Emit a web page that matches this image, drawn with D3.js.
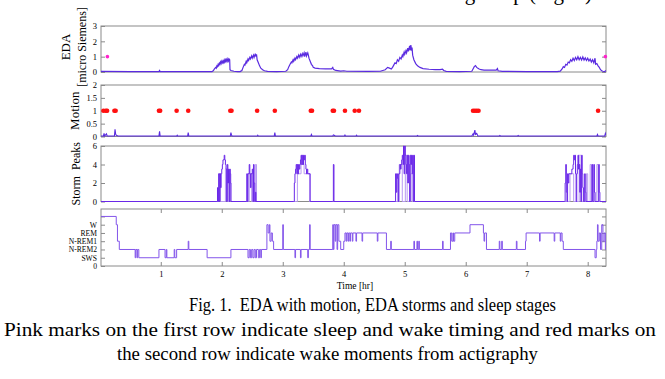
<!DOCTYPE html>
<html><head><meta charset="utf-8">
<script src="https://cdn.jsdelivr.net/npm/d3@7"></script>
<style>body{margin:0;background:#fff}svg{display:block}text{white-space:pre}</style>
</head><body><svg id="c" width="665" height="379"></svg>
<script>
// ---------- data ----------
const timeTicks = [1,2,3,4,5,6,7,8];
const edaTicks = [0,1,2,3];
const motionTicks = [0,0.5,1,1.5,2];
const stormTicks = [0,2,4,6];
const stageTicks = [0,1,2,3,4,5,6];
const stageLabels = ["0","SWS","N-REM2","N-REM1","REM","W",""];
const sleepMarks = [[0.125,1],[8.29,1]];
const eda = [[0.02,0.04],[0.5,0.03],[0.97,0.03],[0.98,0.1],[0.99,0.03],[1.5,0.03],[1.84,0.03],
[1.86,0.08],[1.88,0.2],[1.9,0.3],[1.91,0.25],[1.92,0.4],[1.93,0.35],[1.94,0.5],[1.95,0.42],[1.96,0.58],[1.97,0.5],[1.98,0.65],[1.99,0.55],[2.0,0.7],[2.01,0.6],[2.02,0.72],[2.03,0.62],[2.04,0.78],[2.05,0.65],[2.06,0.8],[2.07,0.68],[2.08,0.82],[2.09,0.7],[2.1,0.85],[2.11,0.72],[2.12,0.85],[2.13,0.8],[2.135,0.15],[2.15,0.1],[2.2,0.05],[2.26,0.02],[2.3,0.03],
[2.33,0.1],[2.35,0.3],[2.37,0.5],[2.38,0.45],[2.4,0.7],[2.41,0.6],[2.43,0.85],[2.44,0.75],[2.46,0.95],[2.47,0.85],[2.49,1.05],[2.5,0.9],[2.52,1.1],[2.53,0.95],[2.55,1.2],[2.56,1.0],[2.57,1.15],[2.58,0.8],[2.6,0.6],[2.62,0.4],[2.64,0.25],[2.67,0.15],[2.7,0.08],[2.75,0.04],[2.9,0.03],[3.05,0.05],
[3.08,0.15],[3.1,0.35],[3.12,0.5],[3.14,0.65],[3.15,0.6],[3.17,0.8],[3.18,0.7],[3.2,0.9],[3.21,0.8],[3.23,1.0],[3.24,0.9],[3.26,1.1],[3.27,0.95],[3.29,1.15],[3.3,1.0],[3.32,1.2],[3.33,1.05],[3.35,1.25],[3.36,1.0],[3.38,1.3],[3.39,1.05],[3.41,1.25],[3.42,1.1],[3.43,0.9],[3.45,0.7],[3.47,0.5],[3.49,0.4],[3.5,0.3],[3.53,0.25],[3.6,0.22],[3.7,0.2],[3.8,0.2],[3.82,0.3],[3.83,0.18],[3.87,0.1],[3.95,0.06],[4.0,0.08],[4.05,0.05],[4.4,0.04],[4.6,0.05],
[4.68,0.15],[4.72,0.3],[4.75,0.25],[4.78,0.2],[4.8,0.3],[4.82,0.45],[4.84,0.6],[4.86,0.55],[4.88,0.8],[4.9,0.7],[4.92,0.95],[4.94,0.85],[4.96,1.1],[4.97,1.0],[4.99,1.3],[5.0,1.15],[5.02,1.4],[5.03,1.25],[5.05,1.55],[5.06,1.35],[5.08,1.7],[5.09,1.4],[5.1,1.75],[5.11,1.5],[5.12,1.6],[5.13,1.1],[5.15,0.8],[5.18,0.55],[5.21,0.4],[5.25,0.3],[5.3,0.22],[5.4,0.18],[5.5,0.15],[5.58,0.15],[5.62,0.18],[5.64,0.1],[5.68,0.04],[5.9,0.03],[6.1,0.05],
[6.12,0.2],[6.14,0.35],[6.16,0.42],[6.18,0.3],[6.2,0.25],[6.22,0.2],[6.25,0.15],[6.3,0.12],[6.45,0.12],[6.5,0.12],[6.52,0.22],[6.53,0.08],[6.6,0.04],[7.0,0.03],[7.5,0.03],[7.55,0.06],
[7.58,0.2],[7.6,0.35],[7.62,0.3],[7.64,0.5],[7.66,0.45],[7.68,0.65],[7.7,0.6],[7.72,0.8],[7.74,0.7],[7.76,0.9],[7.78,0.75],[7.8,0.95],[7.82,0.8],[7.84,1.0],[7.86,0.8],[7.88,0.95],[7.9,0.78],[7.92,0.98],[7.94,0.78],[7.96,0.92],[7.98,0.75],[8.0,0.9],[8.02,0.72],[8.04,0.85],[8.06,0.65],[8.08,0.8],[8.1,0.6],[8.12,0.9],[8.13,0.5],[8.15,0.55],[8.17,0.4],[8.19,0.3],[8.21,0.15],[8.23,0.08],[8.25,0.05],[8.28,0.03],[8.3,0.1]];
const motion = [[0.02,0.02],[0.06,0.02],[0.07,0.12],[0.08,0.02],[0.11,0.1],[0.12,0.02],[0.24,0.02],[0.25,0.28],[0.26,0.1],[0.27,0.05],[0.3,0.02],[0.97,0.02],[0.98,0.2],[0.99,0.02],[1.26,0.02],[1.27,0.05],[1.28,0.02],[1.44,0.02],[1.45,0.15],[1.46,0.02],[2.14,0.02],[2.15,0.15],[2.16,0.05],[2.17,0.02],[2.58,0.02],[2.59,0.05],[2.6,0.02],[2.86,0.02],[2.87,0.15],[2.88,0.02],[3.46,0.02],[3.47,0.08],[3.48,0.02],[3.82,0.02],[3.83,0.06],[3.85,0.04],[3.86,0.02],[4.01,0.02],[4.02,0.06],[4.03,0.02],[4.2,0.02],[4.21,0.05],[4.22,0.02],[5.2,0.02],[5.21,0.04],[5.22,0.02],[6.1,0.02],[6.12,0.1],[6.13,0.05],[6.15,0.25],[6.16,0.08],[6.18,0.12],[6.2,0.02],[6.55,0.02],[6.56,0.04],[6.57,0.02],[6.85,0.02],[6.86,0.04],[6.87,0.02],[8.15,0.02],[8.16,0.08],[8.17,0.02],[8.28,0.02],[8.29,0.12],[8.3,0.05]];
const wakeMoments = [0.06,0.1,0.12,0.24,0.26,0.97,0.99,1.26,1.45,2.14,2.16,2.58,2.87,3.46,3.48,3.82,3.84,4.02,4.18,4.25,6.12,6.15,6.18,6.21,8.17];
const storm = [[0.02,0],[1.92,0],[1.93,1.5],[1.94,0],[1.95,3],[1.96,0],[1.97,3],[1.98,1.5],[1.99,3],[2.0,3.5],[2.01,4],[2.02,4.5],[2.04,5],[2.05,4.5],[2.06,4],[2.07,3.5],[2.08,0],[2.09,4],[2.1,2],[2.11,3.5],[2.12,0],[2.13,3.5],[2.14,2],[2.15,0],
[2.4,0],[2.41,3],[2.42,0],[2.43,3],[2.45,4],[2.46,3],[2.47,1.5],[2.48,3],[2.5,3.5],[2.51,0],[2.52,4],[2.53,2],[2.54,0],[2.55,1],[2.56,0],
[3.18,0],[3.19,2],[3.2,3],[3.21,3.5],[3.22,4],[3.23,3],[3.24,4],[3.25,3],[3.26,4],[3.27,3.5],[3.28,4],[3.29,4.5],[3.3,5],[3.31,4],[3.32,5],[3.33,4],[3.34,5],[3.35,4.5],[3.36,5],[3.37,4],[3.38,3.5],[3.39,3],[3.4,3.5],[3.41,3],[3.43,3],[3.45,0],
[3.82,0],[3.83,4],[3.84,0],
[4.84,0],[4.85,3],[4.86,1],[4.87,3],[4.88,2.5],[4.89,0],[4.9,3],[4.92,4],[4.93,3.5],[4.94,4],[4.95,4.5],[4.96,5],[4.97,4],[4.98,6],[4.99,3],[5.0,6],[5.01,5],[5.02,4],[5.03,3],[5.04,5],[5.05,2],[5.06,5],[5.07,4],[5.08,0],[5.09,5],[5.1,4],[5.11,5],[5.12,3],[5.13,5],[5.14,0],[5.15,5],[5.16,0],
[7.62,0],[7.63,2],[7.64,4],[7.65,1],[7.66,0],[7.67,3],[7.68,2],[7.69,3],[7.72,3],[7.74,3.5],[7.76,4],[7.77,5],[7.78,4.5],[7.79,5],[7.8,3],[7.81,0],[7.82,3],[7.83,4],[7.84,5],[7.85,3.5],[7.86,4],[7.87,1],[7.88,3.5],[7.89,0],[7.9,5],[7.91,3],[7.92,1.5],[7.93,0],[7.95,3],[7.96,1],[7.97,0],[8.07,4],[8.08,0],[8.1,4],[8.11,1],[8.12,0],[8.18,4],[8.19,1],[8.2,0],[8.3,0]];
const stormLight = [[0.02,0],[1.94,0],[1.95,3],[1.97,3],[1.98,0],[2.06,3.5],[2.08,3.5],[2.09,0],[2.12,3],[2.14,3],[2.15,0],
[2.44,0],[2.45,3],[2.48,3],[2.49,0],[2.55,4],[2.57,0],
[3.23,0],[3.24,3],[3.27,3],[3.3,4],[3.33,4],[3.35,3],[3.42,3],[3.44,0],
[4.9,0],[4.91,4],[4.95,4],[4.96,0],[5.01,5],[5.03,5],[5.04,0],[5.1,3],[5.12,0],
[7.7,0],[7.71,3],[7.76,3],[7.77,0],[7.86,5],[7.88,5],[7.89,0],[7.98,3],[8.0,0],[8.04,4],[8.06,0],[8.14,1],[8.15,4],[8.17,0],[8.3,0]];
const stages = [[0.02,6],[0.27,5],[0.29,3],[0.32,2],[0.58,1],[0.59,2],[0.61,1],[0.62,2],[0.64,1],[0.97,2],[1.07,1],[1.09,2],[1.1,1],[1.22,2],[1.23,1],[1.26,2],[1.45,3],[1.46,2],[1.76,1],[2.15,2],[2.43,1],[2.45,2],[2.47,1],[2.49,2],[2.51,1],[2.53,2],[2.55,1],[2.57,2],[2.6,1],[2.62,2],[2.64,1],[2.65,2],[2.74,5],[2.76,4],[2.78,5],[2.79,3],[2.81,4],[2.83,3],[2.85,2],[3.0,5],[3.01,2],[3.2,1],[3.21,2],[3.29,1],[3.3,2],[3.41,1],[3.42,2],[3.44,5],[3.45,2],[3.82,5],[3.83,2],[3.84,5],[3.86,3],[3.87,5],[3.89,2],[3.9,5],[3.92,3],[3.95,2],[4.0,3],[4.02,4],[4.04,3],[4.05,4],[4.07,3],[4.08,4],[4.1,3],[4.11,4],[4.14,3],[4.15,4],[4.2,3],[4.21,4],[4.3,3],[4.31,4],[4.55,3],[4.56,4],[4.7,2],[4.77,3],[4.78,2],[5.15,3],[5.16,2],[5.2,3],[5.21,2],[5.23,3],[5.24,2],[5.62,3],[5.63,2],[5.75,4],[5.77,3],[5.79,4],[5.8,3],[5.82,4],[6.07,5],[6.29,4],[6.3,3],[6.31,4],[6.34,2],[6.55,3],[6.56,2],[6.59,3],[6.6,2],[6.83,3],[6.84,2],[6.98,3],[6.99,4],[7.21,3],[7.22,4],[7.45,3],[7.46,4],[7.55,3],[7.56,4],[7.58,3],[7.6,2],[8.12,1],[8.14,2],[8.15,3],[8.16,5],[8.17,3],[8.19,4],[8.21,2],[8.23,5],[8.25,3],[8.27,4],[8.29,2],[8.3,2]];
const captionLines = ["Fig. 1.  EDA with motion, EDA storms and sleep stages",
 "Pink marks on the first row indicate sleep and wake timing and red marks on",
 "the second row indicate wake moments from actigraphy"];
const runningText = "during sleep (Fig. 1)";

// ---------- drawing ----------
const svg = d3.select("#c");
const serif = "'Liberation Serif','Times New Roman',serif";
const left = 101, right = 606;
const x = d3.scaleLinear().domain([0.02, 8.3]).range([left, right]);
const lineColor = "#5a2be0";
const frameColor = "#8a8a8a";

// cropped line of body text at the very top (only descenders show, as in the reference)
svg.append("text").attr("x", 592).attr("y", -0.5).attr("text-anchor", "end")
  .attr("font-family", serif).attr("font-size", 21).attr("fill", "#000").text(runningText);

function panel(id, top, bottom, domain, ticks, fmt, ylabelLines, tickSize) {
  const y = d3.scaleLinear().domain(domain).range([bottom, top]);
  const g = svg.append("g");
  svg.append("clipPath").attr("id", id).append("rect")
    .attr("x", left).attr("y", top - 1).attr("width", right - left).attr("height", bottom - top + 2);
  const ax = g.append("g").attr("transform", `translate(${left},0)`)
    .call(d3.axisLeft(y).tickValues(ticks).tickSizeInner(-4).tickSizeOuter(0).tickPadding(4).tickFormat(fmt));
  ax.select(".domain").remove();
  ax.selectAll("line").attr("stroke", frameColor);
  ax.selectAll("text").attr("font-family", serif).attr("font-size", tickSize || 8.5).attr("fill", "#000");
  const ax2 = g.append("g").attr("transform", `translate(${right},0)`)
    .call(d3.axisRight(y).tickValues(ticks).tickSizeInner(-4).tickSizeOuter(0).tickFormat(""));
  ax2.select(".domain").remove();
  ax2.selectAll("line").attr("stroke", frameColor);
  g.append("rect").attr("x", left).attr("y", top).attr("width", right - left).attr("height", bottom - top)
    .attr("fill", "none").attr("stroke", frameColor).attr("stroke-width", 1);
  ylabelLines.forEach(l => {
    svg.append("text").attr("transform", `translate(${l.x},${(top + bottom) / 2 + (l.dy||0)}) rotate(-90)`)
      .attr("text-anchor", "middle").attr("font-family", serif).attr("font-size", l.size)
      .attr("fill", "#000").text(l.t);
  });
  return {y, g, clip: `url(#${id})`};
}

// EDA
const p1 = panel("c1", 26, 72, [0, 3], edaTicks, d3.format("d"),
  [{t: "EDA", x: 70, size: 13, dy: -2}, {t: "[micro Siemens]", x: 86, size: 12, dy: -2}]);
p1.g.append("path").datum(eda).attr("clip-path", p1.clip)
  .attr("d", d3.line().x(d => x(d[0])).y(d => p1.y(d[1])))
  .attr("fill", "none").attr("stroke", lineColor).attr("stroke-width", 1.2);
p1.g.selectAll(".pm").data(sleepMarks).join("circle")
  .attr("cx", d => x(d[0])).attr("cy", d => p1.y(d[1])).attr("r", 1.8).attr("fill", "#ff22cc");

// Motion
const p2 = panel("c2", 85, 136.5, [0, 2], motionTicks, d => d === 0 ? "0" : (d % 1 ? d3.format(".1f")(d) : d3.format("d")(d)),
  [{t: "Motion", x: 79, size: 13}]);
p2.g.append("path").datum(motion).attr("clip-path", p2.clip)
  .attr("d", d3.line().x(d => x(d[0])).y(d => p2.y(d[1])))
  .attr("fill", "none").attr("stroke", lineColor).attr("stroke-width", 1.1);
p2.g.selectAll(".wm").data(wakeMoments).join("circle")
  .attr("cx", d => x(d)).attr("cy", p2.y(1)).attr("r", 2.3).attr("fill", "#ff1010");

// Storm peaks
const p3 = panel("c3", 146, 201.5, [0, 6], stormTicks, d3.format("d"),
  [{t: "Storm  Peaks", x: 80, size: 12}]);
p3.g.append("path").datum(stormLight).attr("clip-path", p3.clip)
  .attr("d", d3.line().curve(d3.curveStepAfter).x(d => x(d[0])).y(d => p3.y(d[1])))
  .attr("fill", "none").attr("stroke", "#b89af2").attr("stroke-width", 1);
p3.g.append("path").datum(storm).attr("clip-path", p3.clip)
  .attr("d", d3.line().curve(d3.curveStepAfter).x(d => x(d[0])).y(d => p3.y(d[1])))
  .attr("fill", "none").attr("stroke", "#6a28e8").attr("stroke-width", 1);

// Sleep stages
const p4 = panel("c4", 209, 266, [0, 6.9], stageTicks, d => stageLabels[d], [], 7.6);
p4.g.append("path").datum(stages).attr("clip-path", p4.clip)
  .attr("d", d3.line().curve(d3.curveStepAfter).x(d => x(d[0])).y(d => p4.y(d[1])))
  .attr("fill", "none").attr("stroke", "#8355ea").attr("stroke-width", 1);
const xb = p4.g.append("g").attr("transform", "translate(0,266)")
  .call(d3.axisBottom(x).tickValues(timeTicks).tickSizeInner(-4).tickSizeOuter(0).tickPadding(5).tickFormat(d3.format("d")));
xb.select(".domain").remove();
xb.selectAll("line").attr("stroke", frameColor);
xb.selectAll("text").attr("font-family", serif).attr("font-size", 8.5).attr("fill", "#000");
const xt = p4.g.append("g").attr("transform", "translate(0,209)")
  .call(d3.axisTop(x).tickValues(timeTicks).tickSizeInner(-4).tickSizeOuter(0).tickFormat(""));
xt.select(".domain").remove();
xt.selectAll("line").attr("stroke", frameColor);
svg.append("text").attr("x", 355).attr("y", 289).attr("text-anchor", "middle")
  .attr("font-family", serif).attr("font-size", 9.5).text("Time [hr]");

// caption (widths matched to the reference)
const capX = [189, 4, 117];
const capW = [367, 652, 421];
const capY = [311, 336, 360];
captionLines.forEach((t, i) => {
  svg.append("text").attr("x", capX[i]).attr("y", capY[i])
    .attr("textLength", capW[i]).attr("lengthAdjust", "spacingAndGlyphs")
    .attr("font-family", serif).attr("font-size", 19.5).attr("fill", "#000").text(t);
});
</script></body></html>
